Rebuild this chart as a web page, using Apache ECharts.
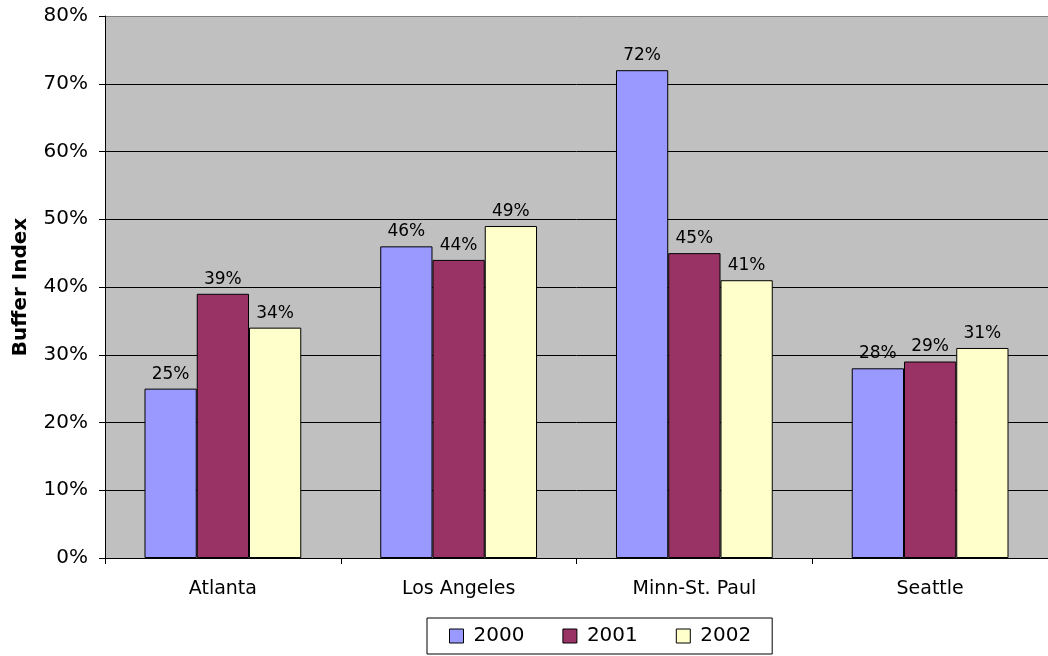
<!DOCTYPE html>
<html>
<head>
<meta charset="utf-8">
<script src="https://cdn.jsdelivr.net/npm/echarts@6/dist/echarts.min.js"></script>
<style>
  html, body { margin: 0; padding: 0; background: #fff; }
  #chart { width: 1048px; height: 656px; }
</style>
</head>
<body>
<div id="chart"></div>
<script>
var cities = ['Atlanta', 'Los Angeles', 'Minn-St. Paul', 'Seattle'];
var years = ['2000', '2001', '2002'];
var y2000 = [25, 46, 72, 28];
var y2001 = [39, 44, 45, 29];
var y2002 = [34, 49, 41, 31];
var colors = ['#9999FF', '#993366', '#FFFFCC'];

var font = 'DejaVu Sans';
var chart = echarts.init(document.getElementById('chart'));

function barSeries(name, data, color) {
    return {
        name: name,
        type: 'bar',
        data: data,
        barGap: '0%',
        barCategoryGap: '33.5%',
        itemStyle: { color: color, borderColor: '#000', borderWidth: 1 },
        label: {
            show: true,
            position: 'top',
            distance: 6,
            formatter: '{c}%',
            fontFamily: font,
            fontSize: 17,
            color: '#000'
        }
    };
}

// top gridline (80%) is the grey plot border in the original
var gridColors = ['#000', '#000', '#000', '#000', '#000', '#000', '#000', '#000', '#808080'];

chart.setOption({
    animation: false,
    grid: {
        left: 105, top: 16, width: 948, bottom: 98,
        show: true, backgroundColor: '#C0C0C0', borderWidth: 0
    },
    legend: {
        data: years,
        left: 427, top: 618,
        orient: 'horizontal',
        itemWidth: 14, itemHeight: 14, itemGap: 38,
        icon: 'rect',
        borderColor: '#000', borderWidth: 1,
        backgroundColor: '#fff',
        padding: [8, 21, 8, 22],
        itemStyle: { borderColor: '#000', borderWidth: 1 },
        textStyle: { fontFamily: font, fontSize: 20, color: '#000', lineHeight: 20, padding: [0, 0, 0, 5] }
    },
    xAxis: {
        type: 'category',
        data: cities,
        axisLine: { lineStyle: { color: '#000', width: 1 } },
        axisTick: { show: true, length: 6, lineStyle: { color: '#000' } },
        axisLabel: { fontFamily: font, fontSize: 19, color: '#000', margin: 22 }
    },
    yAxis: {
        type: 'value',
        min: 0, max: 80, interval: 10,
        name: 'Buffer Index',
        nameLocation: 'middle',
        nameGap: 74,
        nameTextStyle: { fontFamily: font, fontSize: 20, fontWeight: 'bold', color: '#000' },
        axisLine: { show: true, lineStyle: { color: '#000', width: 1 } },
        axisTick: { show: true, length: 6, lineStyle: { color: '#000' } },
        axisLabel: { fontFamily: font, fontSize: 20, color: '#000', margin: 17, formatter: '{value}%' },
        splitLine: { show: true, lineStyle: { color: gridColors, width: 1 } }
    },
    series: [
        barSeries(years[0], y2000, colors[0]),
        barSeries(years[1], y2001, colors[1]),
        barSeries(years[2], y2002, colors[2])
    ]
});
</script>
</body>
</html>
